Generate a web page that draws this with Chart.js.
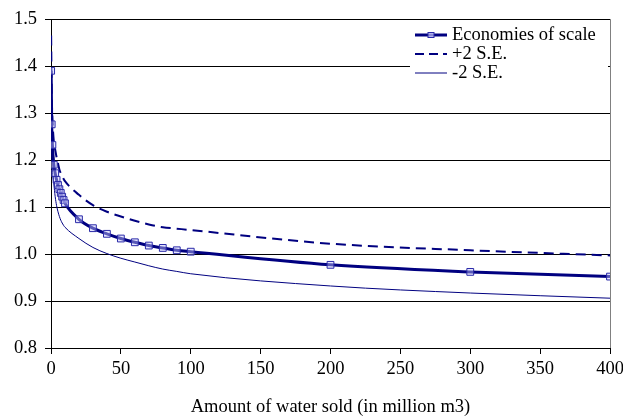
<!DOCTYPE html>
<html>
<head>
<meta charset="utf-8">
<script src="https://cdn.jsdelivr.net/npm/chart.js@4.4.0/dist/chart.umd.min.js"></script>
<style>
  html, body { margin: 0; padding: 0; background: #fff; }
  #wrap { position: relative; width: 623px; height: 420px; }
  #legend {
    position: absolute; left: 410px; top: 25px; width: 198px; height: 61px;
    background: #fff; font-family: "Liberation Serif", "Times New Roman", serif;
    font-size: 18.5px; color: #000;
  }
  .row { position: absolute; left: 0; height: 20px; line-height: 20px; white-space: nowrap; }
  .row svg { position: absolute; left: 5px; top: 0; }
  .row span { position: absolute; left: 42px; top: -1px; }
</style>
</head>
<body>
<div id="wrap">
  <canvas id="c" width="623" height="420"></canvas>
  <div id="legend"></div>
</div>
<script>
// ---- data ----
const waterSold = [0.1, 0.5, 1, 2, 3, 4, 5, 6, 7, 8, 9, 10, 20, 30, 40, 50, 60, 70, 80, 90, 100, 200, 300, 400];
const economiesOfScale = [1.390, 1.276, 1.232, 1.190, 1.172, 1.158, 1.147, 1.138, 1.130, 1.122, 1.115, 1.108, 1.074, 1.055, 1.043, 1.033, 1.025, 1.018, 1.013, 1.008, 1.005, 0.977, 0.962, 0.952];
const plus2SE = [1.465, 1.345, 1.290, 1.240, 1.222, 1.206, 1.193, 1.180, 1.172, 1.166, 1.160, 1.155, 1.126, 1.104, 1.090, 1.080, 1.071, 1.063, 1.057, 1.054, 1.051, 1.022, 1.008, 0.997];
const minus2SE = [1.320, 1.220, 1.180, 1.150, 1.122, 1.103, 1.090, 1.080, 1.072, 1.066, 1.061, 1.057, 1.033, 1.014, 1.001, 0.991, 0.983, 0.975, 0.968, 0.963, 0.958, 0.932, 0.917, 0.906];
const seriesNames = ['Economies of scale', '+2 S.E.', '-2 S.E.'];
const xTickValues = [0, 50, 100, 150, 200, 250, 300, 350, 400];
const yTickValues = [0.8, 0.9, 1.0, 1.1, 1.2, 1.3, 1.4, 1.5];
const xAxisTitle = 'Amount of water sold (in million m3)';

const NAVY = '#000080';
const FONT = '"Liberation Serif", "Times New Roman", serif';
const FS = 18.5;

const pts = arr => waterSold.map((x, i) => ({ x: x, y: arr[i] }));

const chart = new Chart(document.getElementById('c'), {
  type: 'line',
  data: {
    datasets: [
      {
        label: seriesNames[0], data: pts(economiesOfScale),
        borderColor: NAVY, borderWidth: 3,
        pointStyle: 'rect', pointRadius: 4.8, pointHoverRadius: 4.8,
        pointBorderColor: '#2a2aa8', pointBorderWidth: 1,
        pointBackgroundColor: 'rgba(200,200,255,0.45)',
        cubicInterpolationMode: 'monotone', fill: false
      },
      {
        label: seriesNames[1], data: pts(plus2SE),
        borderColor: NAVY, borderWidth: 2, borderDash: [10, 6],
        pointRadius: 0, cubicInterpolationMode: 'monotone', fill: false
      },
      {
        label: seriesNames[2], data: pts(minus2SE),
        borderColor: NAVY, borderWidth: 1,
        pointRadius: 0, cubicInterpolationMode: 'monotone', fill: false
      }
    ]
  },
  options: {
    responsive: false,
    animation: false,
    events: [],
    layout: { padding: { top: 14, right: 13, left: 0, bottom: 0 } },
    plugins: { legend: { display: false }, tooltip: { enabled: false } },
    scales: {
      x: {
        type: 'linear', min: 0, max: 400,
        afterBuildTicks: s => { s.ticks = xTickValues.map(v => ({ value: v })); },
        afterFit: s => { s.height = 72; s.paddingRight = 0; s.paddingLeft = 0; },
        ticks: { color: '#000', font: { family: FONT, size: FS }, padding: 4, maxRotation: 0, autoSkip: false },
        grid: {
          color: c => (c.tick && c.tick.value === 400) ? '#808080' : 'rgba(0,0,0,0)',
          tickColor: '#000', tickLength: 6, lineWidth: 1, drawTicks: true
        },
        border: { display: true, color: '#000', width: 1 },
        title: { display: true, text: xAxisTitle, color: '#000', font: { family: FONT, size: FS }, padding: { top: 0, bottom: 2 } }
      },
      y: {
        type: 'linear', min: 0.8, max: 1.5,
        afterBuildTicks: s => { s.ticks = yTickValues.map(v => ({ value: v })); },
        afterFit: s => { s.width = 51; },
        ticks: { color: '#000', font: { family: FONT, size: FS }, padding: 8, callback: v => Number(v).toFixed(1) },
        grid: { color: '#000', tickColor: '#000', tickLength: 6, lineWidth: 1 },
        border: { display: true, color: '#000', width: 1 }
      }
    }
  }
});

// HTML legend (real text)
const legend = document.getElementById('legend');
const swatches = [
  '<svg width="32" height="20"><line x1="0" y1="10" x2="32" y2="10" stroke="' + NAVY + '" stroke-width="3"/><rect x="13" y="7.5" width="6" height="5" fill="rgba(200,200,255,0.7)" stroke="#2a2aa8" stroke-width="1"/></svg>',
  '<svg width="32" height="20"><line x1="0" y1="10" x2="32" y2="10" stroke="' + NAVY + '" stroke-width="2" stroke-dasharray="9,5"/></svg>',
  '<svg width="32" height="20"><line x1="0" y1="10" x2="32" y2="10" stroke="' + NAVY + '" stroke-width="1"/></svg>'
];
const rowTops = [0, 19, 38];
seriesNames.forEach((name, i) => {
  const r = document.createElement('div');
  r.className = 'row';
  r.style.top = rowTops[i] + 'px';
  r.innerHTML = swatches[i] + '<span>' + name + '</span>';
  legend.appendChild(r);
});
</script>
</body>
</html>
